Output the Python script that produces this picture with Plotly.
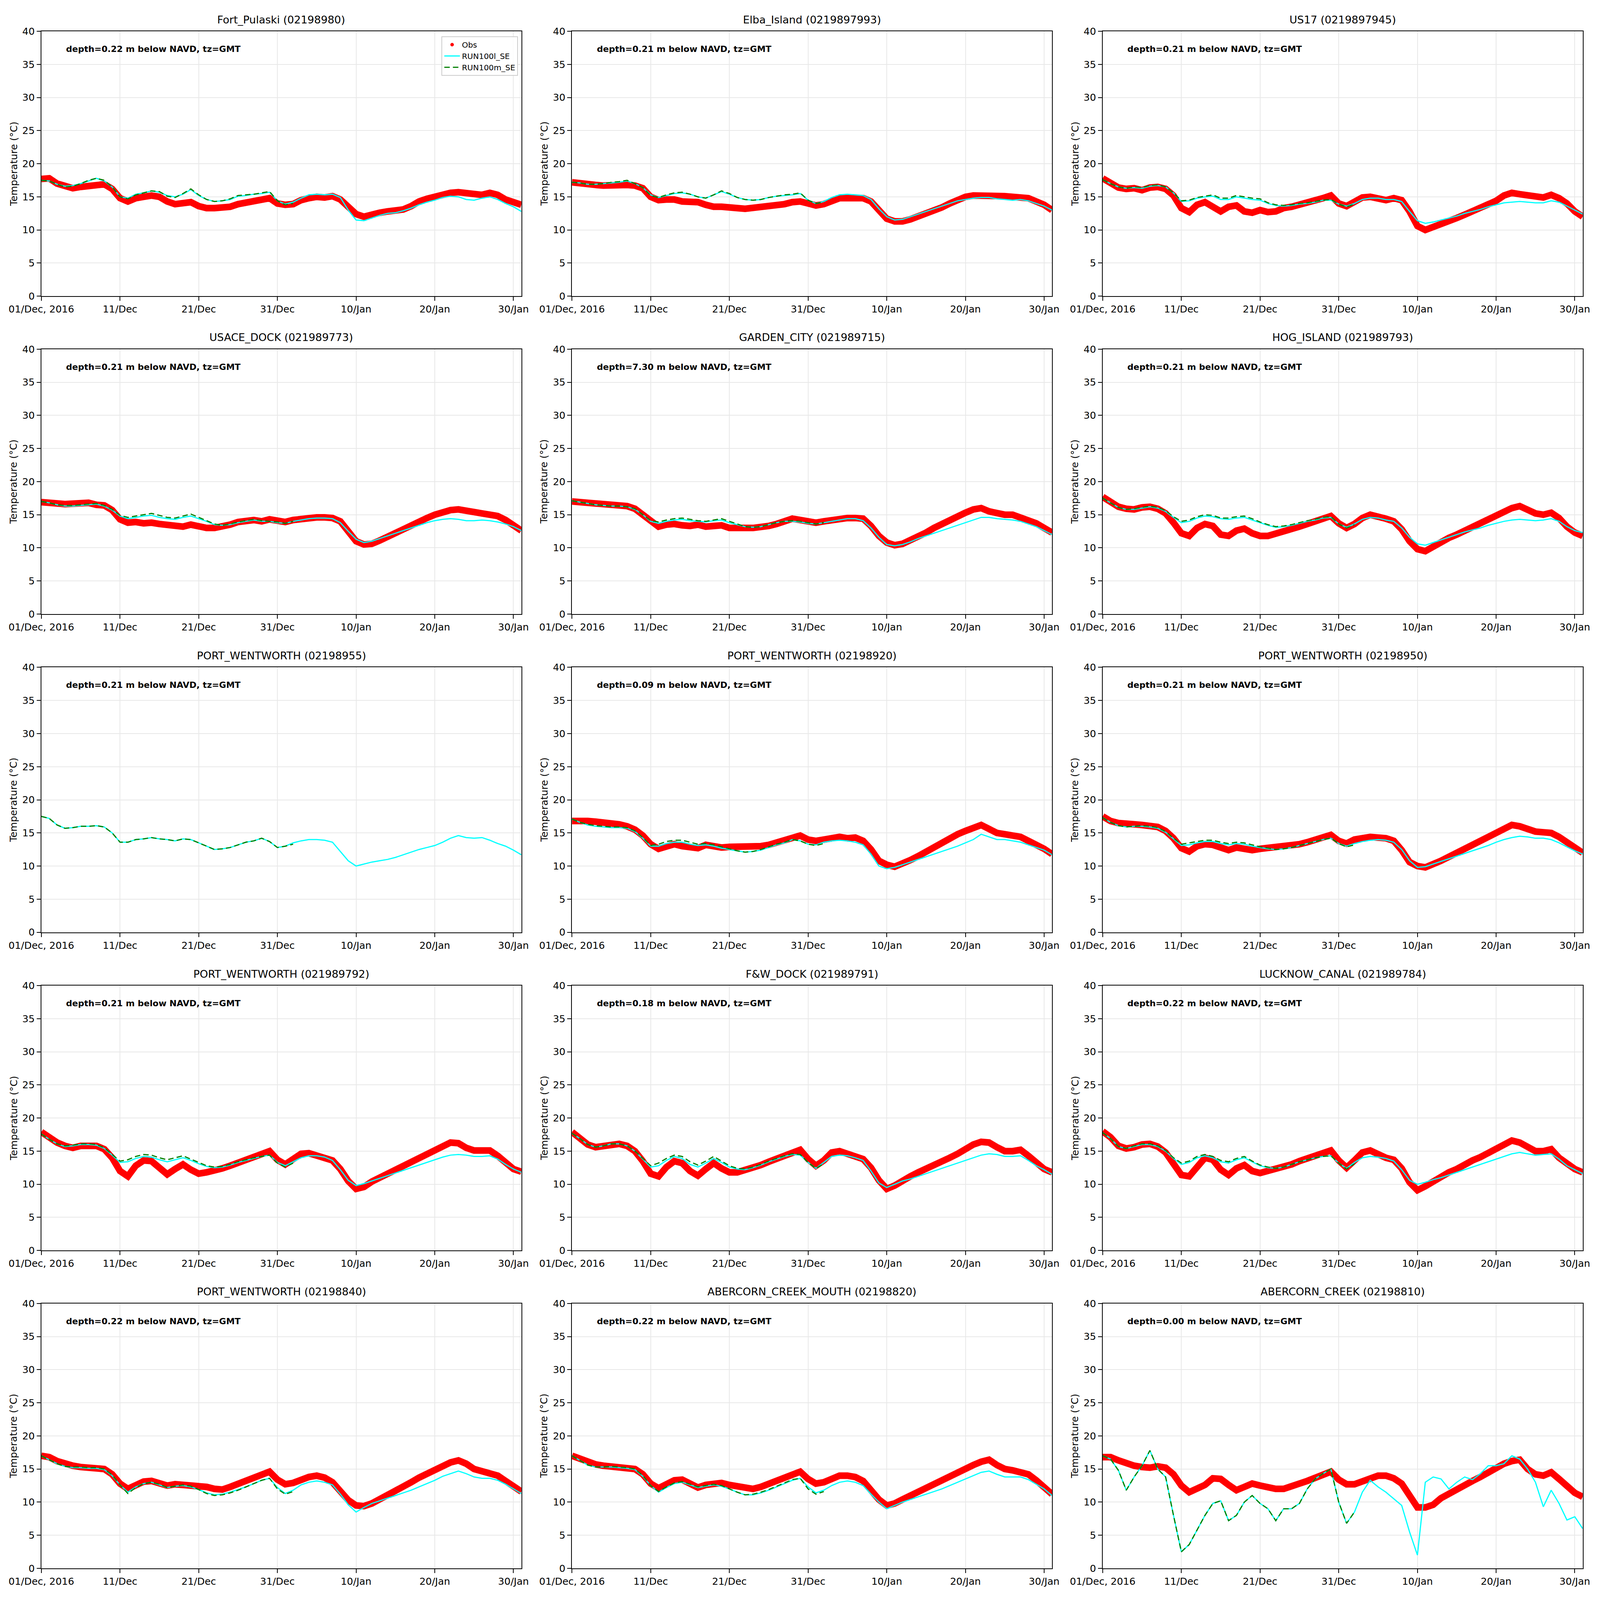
import pandas as pd
import plotly.graph_objects as go

# daily samples, 01 Dec 2016 .. 31 Jan 2017
days = pd.date_range("2016-12-01", periods=62, freq="D")

station_names = ["Fort_Pulaski", "Elba_Island", "US17",
                 "USACE_DOCK", "GARDEN_CITY", "HOG_ISLAND",
                 "PORT_WENTWORTH", "PORT_WENTWORTH", "PORT_WENTWORTH",
                 "PORT_WENTWORTH", "F&W_DOCK", "LUCKNOW_CANAL",
                 "PORT_WENTWORTH", "ABERCORN_CREEK_MOUTH", "ABERCORN_CREEK"]
station_codes = ["02198980", "0219897993", "0219897945",
                 "021989773", "021989715", "021989793",
                 "02198955", "02198920", "02198950",
                 "021989792", "021989791", "021989784",
                 "02198840", "02198820", "02198810"]
depths = ["0.22", "0.21", "0.21",
          "0.21", "7.30", "0.21",
          "0.21", "0.09", "0.21",
          "0.21", "0.18", "0.22",
          "0.22", "0.22", "0.00"]

tick_dates = ["2016-12-01", "2016-12-11", "2016-12-21", "2016-12-31",
              "2017-01-10", "2017-01-20", "2017-01-30"]
tick_labels = ["01/Dec, 2016", "11/Dec", "21/Dec", "31/Dec",
               "10/Jan", "20/Jan", "30/Jan"]
y_ticks = [0, 5, 10, 15, 20, 25, 30, 35, 40]

series_names = ["Obs", "RUN100l_SE", "RUN100m_SE"]

# ---- Fort_Pulaski
obs_fort_pulaski = [17.7, 17.8, 17.0, 16.7, 16.3, 16.5, 16.6, 16.8, 16.9, 16.2,
                    14.8, 14.3, 14.8, 15.0, 15.2, 15.0, 14.3, 13.9, 14.0, 14.2,
                    13.6, 13.3, 13.3, 13.4, 13.5, 13.9, 14.1, 14.3, 14.5, 14.8,
                    14.0, 13.8, 13.9, 14.5, 14.8, 15.0, 14.9, 15.1, 14.6, 13.4,
                    12.4, 12.0, 12.4, 12.6, 12.8, 12.9, 13.1, 13.6, 14.3, 14.7,
                    15.0, 15.4, 15.6, 15.7, 15.6, 15.4, 15.3, 15.6, 15.3, 14.6,
                    14.3, 13.8]
lvl_fort_pulaski = [17.5, 17.4, 16.9, 16.6, 16.7, 17.0, 17.4, 17.8, 17.4, 16.5,
                    15.0, 14.8, 15.4, 15.6, 15.9, 15.7, 15.2, 15.0, 15.4, 16.1,
                    15.2, 14.6, 14.3, 14.4, 14.6, 15.1, 15.2, 15.4, 15.5, 15.7,
                    14.4, 13.9, 14.2, 14.8, 15.3, 15.4, 15.3, 15.4, 14.9, 13.0,
                    11.5, 11.4, 11.8, 12.2, 12.5, 12.6, 12.9, 13.3, 13.8, 14.2,
                    14.5, 14.9, 15.1, 15.0, 14.6, 14.5, 14.8, 15.0, 14.6, 14.0,
                    13.5, 12.8]
mvl_fort_pulaski = [17.5, 17.4, 16.9, 16.5, 16.6, 17.0, 17.5, 17.8, 17.5, 16.5,
                    15.0, 14.7, 15.3, 15.6, 15.9, 15.8, 15.1, 14.9, 15.5, 16.2,
                    15.3, 14.6, 14.3, 14.4, 14.7, 15.2, 15.3, 15.4, 15.6, 15.8,
                    14.4, 13.8, 14.0]

# ---- Elba_Island
obs_elba = [17.2, 17.0, 16.8, 16.8, 16.7, 16.8, 16.8, 16.8, 16.7, 16.3,
            15.0, 14.5, 14.6, 14.6, 14.3, 14.3, 14.2, 13.8, 13.5, 13.5,
            13.3, 13.3, 13.2, 13.3, 13.5, 13.6, 13.7, 13.9, 14.2, 14.3,
            14.0, 13.7, 13.9, 14.4, 14.8, 14.8, 14.9, 14.8, 14.3, 12.8,
            11.7, 11.3, 11.3, 11.6, 12.0, 12.4, 12.9, 13.4, 14.0, 14.6,
            15.0, 15.2, 15.2, 15.3, 15.2, 15.1, 15.0, 15.0, 14.8, 14.3,
            13.8, 13.0]
lvl_elba = [17.2, 17.1, 16.9, 16.9, 17.0, 17.1, 17.2, 17.4, 17.0, 16.4,
            15.3, 14.9, 15.2, 15.5, 15.6, 15.4, 15.0, 14.8, 15.3, 15.8,
            15.4, 14.9, 14.6, 14.5, 14.6, 14.9, 15.1, 15.2, 15.3, 15.5,
            14.5, 14.0, 14.3, 14.9, 15.3, 15.4, 15.3, 15.2, 14.6, 13.2,
            12.0, 11.5, 11.6, 12.0, 12.4, 12.8, 13.2, 13.6, 14.0, 14.4,
            14.6, 14.8, 14.9, 14.9, 14.7, 14.6, 14.5, 14.6, 14.4, 14.0,
            13.6, 13.0]
mvl_elba = [17.2, 17.1, 16.9, 16.9, 17.0, 17.2, 17.3, 17.5, 17.0, 16.4,
            15.2, 14.9, 15.3, 15.6, 15.7, 15.4, 15.0, 14.8, 15.3, 15.9,
            15.5, 14.9, 14.6, 14.5, 14.6, 14.9, 15.1, 15.3, 15.4, 15.6,
            14.5, 14.0, 14.2]

# ---- US17
obs_us17 = [17.8, 17.2, 16.4, 16.2, 16.3, 16.0, 16.4, 16.5, 16.2, 15.2,
            13.3, 12.7, 13.8, 14.2, 13.6, 12.8, 13.5, 13.7, 12.8, 12.6,
            13.0, 12.7, 12.8, 13.3, 13.5, 13.8, 14.1, 14.3, 14.8, 15.2,
            14.0, 13.6, 14.2, 14.9, 15.0, 14.8, 14.5, 14.8, 14.5, 12.8,
            10.6, 10.0, 10.4, 10.9, 11.3, 11.8, 12.3, 12.8, 13.3, 13.9,
            14.4, 15.2, 15.6, 15.4, 15.2, 15.0, 14.9, 15.3, 14.8, 14.0,
            12.8, 12.0]
lvl_us17 = [17.6, 17.0, 16.5, 16.3, 16.4, 16.3, 16.6, 16.7, 16.5, 15.6,
            14.3, 14.4, 14.8, 15.0, 15.1, 14.6, 14.6, 15.0, 14.8, 14.6,
            14.5, 14.0, 13.7, 13.6, 13.7, 13.9, 14.0, 14.2, 14.5, 14.5,
            13.9, 13.6, 14.0, 14.6, 14.8, 14.8, 14.6, 14.6, 14.3, 12.8,
            11.4, 11.0, 11.2, 11.5, 11.8, 12.1, 12.5, 12.8, 13.1, 13.5,
            13.8, 14.1, 14.2, 14.3, 14.2, 14.1, 14.1, 14.4, 14.2, 13.6,
            13.0, 12.4]
mvl_us17 = [17.6, 17.0, 16.5, 16.3, 16.5, 16.4, 16.7, 16.8, 16.5, 15.6,
            14.4, 14.5, 14.9, 15.1, 15.3, 14.8, 14.8, 15.2, 15.0, 14.8,
            14.7, 14.1, 13.8, 13.7, 13.8, 14.0, 14.1, 14.3, 14.5, 14.6,
            13.9, 13.5, 13.9]

# ---- USACE_DOCK
obs_usace = [16.9, 16.9, 16.7, 16.6, 16.6, 16.7, 16.8, 16.5, 16.4, 15.7,
             14.3, 13.8, 13.9, 13.7, 13.8, 13.6, 13.5, 13.4, 13.2, 13.5,
             13.2, 13.0, 13.0, 13.2, 13.5, 13.9, 14.0, 14.2, 14.0, 14.3,
             14.1, 13.9, 14.2, 14.4, 14.4, 14.6, 14.6, 14.5, 14.0, 12.3,
             11.0, 10.5, 10.6, 11.1, 11.7, 12.3, 12.9, 13.4, 14.0, 14.5,
             15.0, 15.4, 15.7, 15.8, 15.5, 15.4, 15.2, 15.0, 14.8, 14.2,
             13.5, 12.6]
lvl_usace = [17.0, 16.8, 16.5, 16.3, 16.3, 16.4, 16.5, 16.6, 16.3, 15.7,
             14.8, 14.4, 14.6, 14.8, 14.9, 14.6, 14.4, 14.3, 14.6, 14.8,
             14.4, 14.0, 13.5, 13.4, 13.5, 13.8, 14.0, 14.2, 14.0, 14.0,
             13.8, 13.7, 14.0, 14.2, 14.4, 14.5, 14.5, 14.4, 13.8, 12.5,
             11.3, 10.8, 11.0, 11.4, 11.8, 12.2, 12.6, 13.0, 13.4, 13.8,
             14.1, 14.3, 14.4, 14.3, 14.1, 14.1, 14.2, 14.1, 13.9, 13.6,
             13.2, 12.6]
mvl_usace = [17.0, 16.8, 16.5, 16.4, 16.4, 16.5, 16.6, 16.7, 16.4, 15.8,
             14.9, 14.6, 14.8, 15.0, 15.2, 14.9, 14.6, 14.5, 14.8, 15.1,
             14.6, 14.1, 13.6, 13.4, 13.6, 13.9, 14.1, 14.3, 14.1, 14.0,
             13.9, 13.7, 14.0]

# ---- GARDEN_CITY
obs_garden = [17.0, 16.9, 16.8, 16.8, 16.7, 16.6, 16.5, 16.3, 15.9, 15.0,
              13.9, 13.2, 13.5, 13.6, 13.4, 13.3, 13.5, 13.2, 13.3, 13.4,
              13.0, 12.9, 13.0, 13.0, 13.1, 13.3, 13.6, 14.0, 14.4, 14.2,
              14.0, 13.8, 14.0, 14.2, 14.3, 14.5, 14.5, 14.4, 13.3, 11.8,
              10.8, 10.4, 10.6, 11.1, 11.7, 12.3, 13.0, 13.6, 14.3, 14.9,
              15.3, 15.8, 16.0, 15.5, 15.2, 15.0, 15.0, 14.6, 14.2, 13.7,
              13.0, 12.3]
lvl_garden = [17.1, 16.9, 16.7, 16.5, 16.4, 16.3, 16.3, 16.2, 15.8, 15.0,
              14.0, 13.7, 14.0, 14.2, 14.3, 14.1, 14.0, 13.9, 14.1, 14.2,
              13.8, 13.5, 13.2, 13.1, 13.2, 13.5, 13.8, 14.0, 14.0, 13.9,
              13.7, 13.6, 13.8, 14.0, 14.2, 14.4, 14.4, 14.1, 13.0, 11.6,
              10.5, 10.3, 10.5, 10.9, 11.4, 11.8, 12.2, 12.6, 13.0, 13.4,
              13.8, 14.2, 14.6, 14.6, 14.4, 14.3, 14.2, 14.0, 13.6, 13.2,
              12.6, 12.0]
mvl_garden = [17.1, 16.9, 16.7, 16.5, 16.4, 16.3, 16.3, 16.2, 15.9, 15.0,
              14.1, 13.9, 14.2, 14.4, 14.5, 14.3, 14.1, 14.0, 14.2, 14.4,
              14.0, 13.6, 13.2, 13.1, 13.2, 13.5, 13.8, 14.0, 14.1, 14.0,
              13.8, 13.6, 13.8]

# ---- HOG_ISLAND
obs_hog = [17.7, 17.0, 16.2, 15.9, 15.8, 16.1, 16.2, 15.9, 15.2, 13.8,
           12.2, 11.8, 13.0, 13.6, 13.3, 12.0, 11.8, 12.6, 12.9, 12.2,
           11.8, 11.8, 12.1, 12.5, 12.8, 13.2, 13.6, 14.0, 14.5, 14.8,
           13.7, 13.0, 13.6, 14.5, 15.0, 14.8, 14.4, 14.0, 12.8, 11.0,
           9.8, 9.5, 10.2, 10.8, 11.5, 12.0, 12.6, 13.1, 13.6, 14.2,
           14.8, 15.5, 16.0, 16.3, 15.8, 15.2, 15.0, 15.3, 14.5, 13.2,
           12.3, 11.8]
lvl_hog = [17.5, 16.8, 16.1, 15.8, 15.8, 16.0, 16.2, 16.0, 15.5, 14.6,
           13.8, 14.0, 14.5, 14.8, 14.7, 14.4, 14.3, 14.5, 14.6, 14.2,
           13.8, 13.4, 13.1, 13.2, 13.4, 13.7, 14.0, 14.2, 14.5, 14.6,
           13.6, 13.1, 13.6, 14.3, 14.6, 14.5, 14.2, 14.0, 13.0, 11.6,
           10.6, 10.4, 10.8, 11.2, 11.6, 12.0, 12.4, 12.7, 13.0, 13.4,
           13.7, 14.0, 14.2, 14.3, 14.2, 14.1, 14.2, 14.4, 14.0, 13.2,
           12.6, 12.3]
mvl_hog = [17.5, 16.8, 16.1, 15.8, 15.9, 16.1, 16.3, 16.1, 15.6, 14.7,
           14.0, 14.2, 14.7, 15.0, 14.9, 14.5, 14.5, 14.7, 14.8, 14.4,
           13.9, 13.5, 13.2, 13.3, 13.5, 13.8, 14.1, 14.3, 14.6, 14.7,
           13.6, 13.0, 13.5]

# ---- PORT_WENTWORTH (02198955), no observations
obs_pw955 = []
lvl_pw955 = [17.5, 17.2, 16.2, 15.7, 15.8, 16.0, 16.0, 16.1, 15.9, 15.0,
             13.6, 13.6, 14.0, 14.1, 14.3, 14.1, 14.0, 13.8, 14.1, 14.0,
             13.5, 13.0, 12.5, 12.6, 12.8, 13.2, 13.6, 13.8, 14.2, 13.7,
             12.8, 13.0, 13.5, 13.8, 14.0, 14.0, 13.9, 13.6, 12.2, 10.8,
             10.0, 10.3, 10.6, 10.8, 11.0, 11.3, 11.7, 12.1, 12.5, 12.8,
             13.1, 13.6, 14.2, 14.6, 14.3, 14.2, 14.3, 13.9, 13.4, 13.0,
             12.4, 11.7]
mvl_pw955 = [17.5, 17.2, 16.2, 15.7, 15.8, 16.0, 16.0, 16.1, 15.9, 15.0,
             13.6, 13.6, 14.0, 14.1, 14.3, 14.1, 14.0, 13.8, 14.1, 14.0,
             13.5, 13.0, 12.5, 12.6, 12.8, 13.2, 13.6, 13.8, 14.2, 13.7,
             12.8, 13.0, 13.3]

# ---- PORT_WENTWORTH (02198920)
obs_pw920 = [16.8, 16.9, 16.8, 16.7, 16.6, 16.5, 16.3, 16.0, 15.5, 14.6,
             13.3, 12.6, 13.0, 13.3, 13.0, 12.8, 12.7, 13.2, 13.0, 12.8,
             12.9, 12.9, 12.8, 12.9, 13.0, 13.2, 13.5, 13.8, 14.3, 14.6,
             14.0, 13.8, 14.0, 14.3, 14.4, 14.2, 14.3, 13.8, 12.5, 10.8,
             10.2, 9.9, 10.3, 10.9, 11.5, 12.2, 12.9, 13.5, 14.2, 14.8,
             15.3, 15.8, 16.2, 15.6, 15.0, 14.8, 14.7, 14.4, 13.8, 13.3,
             12.6, 11.8]
lvl_pw920 = [17.1, 16.6, 16.2, 16.0, 15.9, 15.8, 15.8, 15.7, 15.2, 14.2,
             13.0, 13.0, 13.4, 13.6, 13.6, 13.3, 13.1, 13.2, 13.0, 12.7,
             12.5, 12.3, 12.1, 12.2, 12.4, 12.8, 13.2, 13.5, 14.0, 13.8,
             13.3, 13.2, 13.6, 13.8, 13.9, 13.8, 13.6, 13.2, 11.8, 10.0,
             9.6, 9.8, 10.2, 10.6, 11.0, 11.4, 11.8, 12.2, 12.6, 13.0,
             13.5, 14.0, 14.8, 14.4, 14.0, 14.0, 13.8, 13.6, 13.2, 12.8,
             12.4, 11.7]
mvl_pw920 = [17.1, 16.6, 16.3, 16.1, 16.0, 15.9, 15.9, 15.8, 15.3, 14.3,
             13.1, 13.3, 13.7, 13.9, 13.9, 13.6, 13.3, 13.4, 13.2, 12.9,
             12.6, 12.3, 12.1, 12.2, 12.5, 12.9, 13.3, 13.6, 14.0, 13.8,
             13.3, 13.1, 13.4]

# ---- PORT_WENTWORTH (02198950)
obs_pw950 = [17.5, 16.8, 16.5, 16.3, 16.3, 16.2, 16.1, 15.9, 15.3, 14.2,
             12.7, 12.2, 13.0, 13.3, 13.2, 12.8, 12.4, 12.8, 12.6, 12.4,
             12.6, 12.7, 12.8, 12.9, 13.1, 13.3, 13.6, 14.0, 14.3, 14.7,
             13.8, 13.4, 14.0, 14.3, 14.4, 14.3, 14.2, 13.8, 12.4, 10.6,
             10.0, 9.8, 10.2, 10.8, 11.4, 12.0, 12.6, 13.2, 13.8, 14.4,
             15.0, 15.6, 16.2, 16.0, 15.6, 15.2, 15.1, 15.0, 14.4, 13.6,
             12.6, 12.0]
lvl_pw950 = [17.3, 16.6, 16.1, 15.9, 16.0, 16.0, 15.9, 15.7, 15.1, 14.1,
             13.1, 13.2, 13.5, 13.7, 13.7, 13.4, 13.2, 13.4, 13.3, 13.0,
             12.8, 12.6, 12.5, 12.6, 12.8, 13.1, 13.4, 13.7, 14.0, 14.2,
             13.4, 13.0, 13.4, 13.7, 13.9, 14.0, 13.9, 13.6, 12.5, 10.8,
             9.8, 9.9, 10.3, 10.7, 11.1, 11.5, 11.9, 12.3, 12.7, 13.1,
             13.6, 14.0, 14.3, 14.5, 14.4, 14.2, 14.2, 14.0, 13.5, 12.9,
             12.3, 11.8]
mvl_pw950 = [17.3, 16.6, 16.1, 15.9, 16.0, 16.1, 16.0, 15.8, 15.2, 14.2,
             13.3, 13.5, 13.7, 13.9, 13.9, 13.6, 13.4, 13.6, 13.5, 13.2,
             12.9, 12.7, 12.5, 12.6, 12.8, 13.1, 13.4, 13.7, 14.0, 14.2,
             13.4, 12.9, 13.2]

# ---- PORT_WENTWORTH (021989792)
obs_pw792 = [17.9, 17.0, 16.3, 15.8, 15.5, 15.8, 15.9, 15.8, 15.3, 14.0,
             12.0, 11.2, 12.8, 13.6, 13.5, 12.4, 11.5, 12.3, 13.0, 12.2,
             11.6, 11.8, 12.0, 12.4, 12.8, 13.2, 13.6, 14.1, 14.6, 15.0,
             13.7, 13.0, 13.8, 14.6, 14.7, 14.3, 14.0, 13.6, 12.3, 10.5,
             9.3, 9.6, 10.4, 11.0, 11.5, 12.0, 12.6, 13.2, 13.8, 14.4,
             15.1, 15.8, 16.3, 16.2, 15.5, 15.1, 15.0, 15.1, 14.3, 13.2,
             12.3, 11.9]
lvl_pw792 = [17.6, 16.8, 16.1, 15.7, 15.8, 16.0, 16.0, 15.9, 15.4, 14.4,
             13.3, 13.4, 13.9, 14.2, 14.1, 13.7, 13.4, 13.7, 14.0, 13.6,
             13.1, 12.7, 12.5, 12.6, 12.9, 13.3, 13.6, 13.9, 14.2, 14.4,
             13.3, 12.8, 13.4, 14.0, 14.3, 14.3, 14.1, 13.6, 12.2, 10.6,
             9.8, 10.1, 10.5, 10.9, 11.3, 11.7, 12.1, 12.5, 12.9, 13.3,
             13.7, 14.1, 14.4, 14.5, 14.4, 14.2, 14.2, 14.3, 13.8, 13.0,
             12.3, 11.8]
mvl_pw792 = [17.6, 16.8, 16.1, 15.8, 15.9, 16.1, 16.1, 16.0, 15.5, 14.5,
             13.5, 13.7, 14.2, 14.5, 14.4, 14.0, 13.7, 14.0, 14.3, 13.8,
             13.3, 12.8, 12.6, 12.7, 13.0, 13.4, 13.7, 14.0, 14.2, 14.4,
             13.2, 12.6, 13.2]

# ---- F&W_DOCK
obs_fw = [17.9, 17.0, 16.0, 15.6, 15.8, 16.0, 16.1, 15.8, 15.0, 13.5,
          11.6, 11.2, 12.6, 13.5, 13.2, 12.0, 11.3, 12.3, 13.2, 12.4,
          11.8, 11.8, 12.1, 12.5, 12.9, 13.4, 13.9, 14.4, 14.9, 15.2,
          13.8, 12.8, 13.6, 14.8, 15.0, 14.5, 14.2, 13.8, 12.5, 10.6,
          9.3, 9.8, 10.6, 11.2, 11.8, 12.3, 12.9, 13.5, 14.0, 14.6,
          15.3, 16.0, 16.4, 16.3, 15.6, 15.0, 15.0, 15.2, 14.3, 13.2,
          12.3, 11.8]
lvl_fw = [17.7, 16.9, 16.0, 15.6, 15.8, 16.1, 16.1, 15.8, 15.0, 13.8,
          12.6, 12.8, 13.6, 14.2, 13.9, 13.0, 12.6, 13.2, 13.9, 13.3,
          12.6, 12.3, 12.2, 12.5, 12.9, 13.4, 13.8, 14.2, 14.5, 14.4,
          13.3, 12.4, 13.3, 14.2, 14.4, 14.3, 14.0, 13.6, 12.0, 10.2,
          9.5, 10.0, 10.5, 10.8, 11.2, 11.6, 12.0, 12.4, 12.8, 13.2,
          13.6, 14.0, 14.4, 14.6, 14.5, 14.2, 14.2, 14.3, 13.6, 12.8,
          12.2, 11.5]
mvl_fw = [17.7, 16.9, 16.0, 15.6, 15.8, 16.1, 16.1, 15.8, 15.0, 13.9,
          12.8, 13.2, 13.9, 14.4, 14.2, 13.4, 12.9, 13.5, 14.2, 13.5,
          12.8, 12.4, 12.3, 12.6, 13.0, 13.5, 13.9, 14.3, 14.6, 14.5,
          13.3, 12.4, 13.1]

# ---- LUCKNOW_CANAL
obs_lucknow = [18.0, 17.1, 15.8, 15.4, 15.6, 16.0, 16.1, 15.7, 14.8, 13.2,
               11.4, 11.2, 12.8, 14.0, 13.7, 12.2, 11.4, 12.4, 12.9, 12.0,
               11.7, 12.0, 12.2, 12.6, 13.0, 13.5, 13.9, 14.3, 14.8, 15.1,
               13.6, 12.5, 13.6, 14.8, 15.1, 14.5, 14.0, 13.7, 12.4, 10.3,
               9.1, 9.7, 10.5, 11.2, 11.8, 12.3, 13.0, 13.6, 14.1, 14.7,
               15.4, 16.0, 16.6, 16.3, 15.6, 15.0, 15.0, 15.3, 14.0, 13.0,
               12.3, 11.8]
lvl_lucknow = [17.8, 16.9, 15.7, 15.4, 15.7, 16.0, 16.0, 15.7, 15.0, 13.9,
               13.0, 13.3, 14.0, 14.3, 14.0, 13.4, 13.2, 13.7, 14.0, 13.4,
               12.8, 12.5, 12.4, 12.6, 13.0, 13.4, 13.7, 14.0, 14.2, 14.3,
               13.2, 12.4, 13.3, 14.0, 14.2, 14.1, 13.9, 13.5, 12.2, 10.6,
               10.0, 10.3, 10.7, 11.0, 11.4, 11.8, 12.2, 12.6, 13.0, 13.4,
               13.8, 14.2, 14.6, 14.8, 14.6, 14.4, 14.5, 14.6, 13.8, 12.8,
               12.2, 11.6]
mvl_lucknow = [17.8, 16.9, 15.7, 15.4, 15.8, 16.1, 16.1, 15.8, 15.1, 14.0,
               13.2, 13.5, 14.2, 14.5, 14.2, 13.6, 13.4, 13.9, 14.2, 13.5,
               12.9, 12.6, 12.4, 12.6, 13.0, 13.4, 13.7, 14.0, 14.2, 14.3,
               13.2, 12.3, 13.1]

# ---- PORT_WENTWORTH (02198840)
obs_pw840 = [17.0, 16.8, 16.2, 15.8, 15.5, 15.3, 15.2, 15.2, 15.0, 14.2,
             12.8, 12.0, 12.6, 13.1, 13.2, 12.8, 12.5, 12.7, 12.6, 12.7,
             12.5, 12.3, 12.0, 11.9, 12.3, 12.8, 13.2, 13.6, 14.1, 14.6,
             13.4, 12.7, 12.9, 13.4, 13.8, 14.0, 13.7, 13.0, 11.6, 10.3,
             9.5, 9.4, 9.8, 10.4, 11.0, 11.6, 12.3, 13.0, 13.7, 14.3,
             14.9, 15.5, 16.0, 16.3, 15.8, 15.0, 14.6, 14.4, 14.0, 13.2,
             12.4, 11.6]
lvl_pw840 = [17.0, 16.4, 15.8, 15.4, 15.2, 15.2, 15.1, 15.1, 14.9, 14.0,
             12.6, 11.5, 12.3, 12.8, 13.0, 12.6, 12.2, 12.4, 12.5, 12.3,
             11.9, 11.4, 11.1, 11.2, 11.5, 11.9, 12.3, 12.8, 13.3, 13.6,
             12.2, 11.3, 11.8, 12.6, 13.0, 13.2, 13.0, 12.6, 11.2, 9.6,
             8.5, 9.2, 9.8, 10.2, 10.6, 11.0, 11.4, 11.8, 12.3, 12.8,
             13.3, 13.9, 14.3, 14.7, 14.3, 13.8, 13.6, 13.6, 13.3, 12.7,
             12.0, 11.3]
mvl_pw840 = [17.0, 16.4, 15.8, 15.4, 15.3, 15.3, 15.2, 15.2, 15.0, 14.1,
             12.6, 11.3, 12.2, 12.8, 13.0, 12.7, 12.2, 12.4, 12.6, 12.4,
             11.9, 11.3, 11.0, 11.1, 11.4, 11.8, 12.3, 12.8, 13.3, 13.6,
             12.0, 11.2, 11.6]

# ---- ABERCORN_CREEK_MOUTH
obs_acm = [17.0, 16.6, 16.0, 15.7, 15.5, 15.4, 15.2, 15.2, 15.0, 14.2,
           12.8, 12.1, 12.8, 13.3, 13.4, 12.8, 12.2, 12.6, 12.8, 12.9,
           12.6, 12.4, 12.1, 12.0, 12.3, 12.8, 13.2, 13.6, 14.1, 14.6,
           13.5, 12.8, 13.0, 13.6, 14.0, 14.0, 13.8, 13.2, 11.8, 10.4,
           9.5, 9.8, 10.4, 11.0, 11.6, 12.2, 12.8, 13.4, 14.0, 14.5,
           15.0, 15.6, 16.1, 16.4, 15.6, 15.0, 14.8, 14.5, 14.2, 13.3,
           12.4, 11.2]
lvl_acm = [17.0, 16.3, 15.6, 15.3, 15.3, 15.3, 15.2, 15.1, 14.9, 13.9,
           12.5, 11.5, 12.2, 12.8, 13.0, 12.6, 12.2, 12.4, 12.6, 12.4,
           12.0, 11.5, 11.1, 11.1, 11.4, 11.8, 12.3, 12.8, 13.3, 13.6,
           12.3, 11.4, 11.8, 12.5, 13.0, 13.2, 13.0, 12.5, 11.2, 10.0,
           9.0, 9.5, 10.0, 10.4, 10.8, 11.2, 11.6, 12.0, 12.5, 13.0,
           13.5, 14.0, 14.5, 14.7, 14.2, 13.8, 13.8, 13.8, 13.4, 12.7,
           12.0, 11.0]
mvl_acm = [17.0, 16.3, 15.6, 15.3, 15.3, 15.4, 15.3, 15.2, 15.0, 14.0,
           12.5, 11.6, 12.3, 12.9, 13.1, 12.7, 12.3, 12.5, 12.7, 12.5,
           12.0, 11.5, 11.1, 11.2, 11.5, 11.9, 12.4, 12.9, 13.4, 13.6,
           12.0, 11.2, 11.6]

# ---- ABERCORN_CREEK
obs_ac = [16.8, 16.8, 16.3, 15.8, 15.5, 15.3, 15.2, 15.4, 15.2, 14.2,
          12.5, 11.5, 12.0, 12.6, 13.6, 13.5, 12.6, 11.8, 12.3, 12.8,
          12.5, 12.2, 12.0, 12.0, 12.3, 12.8, 13.2, 13.6, 14.1, 14.6,
          13.4, 12.7, 12.7, 13.2, 13.6, 14.0, 14.0, 13.6, 12.8, 10.8,
          9.2, 9.2, 9.6, 10.6, 11.3, 12.0, 12.7, 13.2, 13.8, 14.5,
          15.2, 15.8, 16.2, 16.4, 15.0, 14.2, 14.0, 14.5, 13.5, 12.3,
          11.4, 10.8]
lvl_ac = [17.0, 16.5, 14.8, 11.8, 13.8, 15.5, 17.8, 15.0, 13.8, 8.0,
          2.5, 3.6, 5.8, 8.0, 9.8, 10.2, 7.2, 8.0, 10.0, 11.0,
          9.8, 9.0, 7.2, 9.0, 9.0, 9.8, 12.0, 13.5, 14.3, 15.0,
          10.0, 6.8, 8.5, 11.5, 13.3, 12.3, 11.5, 10.5, 9.5, 5.5,
          2.0, 13.0, 13.8, 13.5, 12.0, 13.0, 13.8, 13.4, 14.3, 15.5,
          15.5, 15.8, 17.0, 16.5, 15.0, 13.0, 9.3, 11.8, 9.8, 7.3,
          7.8, 6.0]
mvl_ac = [17.0, 16.5, 14.8, 11.8, 13.8, 15.5, 17.8, 15.0, 13.8, 8.0,
          2.5, 3.6, 5.8, 8.0, 9.8, 10.2, 7.2, 8.0, 10.0, 11.0,
          9.8, 9.0, 7.2, 9.0, 9.0, 9.8, 12.0, 13.5, 14.3, 15.0,
          10.0, 6.8, 8.5]

panels = [
    (obs_fort_pulaski, lvl_fort_pulaski, mvl_fort_pulaski),
    (obs_elba, lvl_elba, mvl_elba),
    (obs_us17, lvl_us17, mvl_us17),
    (obs_usace, lvl_usace, mvl_usace),
    (obs_garden, lvl_garden, mvl_garden),
    (obs_hog, lvl_hog, mvl_hog),
    (obs_pw955, lvl_pw955, mvl_pw955),
    (obs_pw920, lvl_pw920, mvl_pw920),
    (obs_pw950, lvl_pw950, mvl_pw950),
    (obs_pw792, lvl_pw792, mvl_pw792),
    (obs_fw, lvl_fw, mvl_fw),
    (obs_lucknow, lvl_lucknow, mvl_lucknow),
    (obs_pw840, lvl_pw840, mvl_pw840),
    (obs_acm, lvl_acm, mvl_acm),
    (obs_ac, lvl_ac, mvl_ac),
]

# layout measured on the 6000 x 4500 reference, kept as fractions of the page
W, H = 6000, 4500
FONT = "DejaVu Sans"
col_left = [155, 2145, 4135]
col_width = 1800
row_top = [88, 982, 1877, 2772, 3666]
row_height = 745

fig = go.Figure()
layout = {}
annotations = []

axis_common = dict(showline=True, linecolor="black", linewidth=2, mirror=True,
                   ticks="outside", ticklen=10, tickwidth=2, tickcolor="black",
                   showgrid=True, gridcolor="#e8e8e8", gridwidth=2,
                   zeroline=False, automargin=False,
                   tickfont=dict(family=FONT, size=25, color="black"))

for i, (obs, lvl, mvl) in enumerate(panels):
    r, c = divmod(i, 3)
    k = i + 1
    xa = "x" if k == 1 else f"x{k}"
    ya = "y" if k == 1 else f"y{k}"
    x0 = col_left[c] / W
    x1 = (col_left[c] + col_width) / W
    y1 = 1 - row_top[r] / H
    y0 = 1 - (row_top[r] + row_height) / H

    if obs:
        fig.add_trace(go.Scatter(x=days[:len(obs)], y=obs, mode="lines",
                                 line=dict(color="red", width=17),
                                 name=series_names[0], showlegend=False,
                                 xaxis=xa, yaxis=ya))
    fig.add_trace(go.Scatter(x=days[:len(lvl)], y=lvl, mode="lines",
                             line=dict(color="#00ffff", width=3),
                             name=series_names[1], showlegend=(k == 1),
                             legendrank=2, xaxis=xa, yaxis=ya))
    fig.add_trace(go.Scatter(x=days[:len(mvl)], y=mvl, mode="lines",
                             line=dict(color="#008000", width=3, dash="14px,8px"),
                             name=series_names[2], showlegend=(k == 1),
                             legendrank=3, xaxis=xa, yaxis=ya))

    layout["xaxis" if k == 1 else f"xaxis{k}"] = dict(
        domain=[x0, x1], anchor=ya, type="date",
        range=["2016-12-01", "2017-01-31"],
        tickvals=tick_dates, ticktext=tick_labels, **axis_common)
    layout["yaxis" if k == 1 else f"yaxis{k}"] = dict(
        domain=[y0, y1], anchor=xa, range=[0, 40],
        tickvals=y_ticks, **axis_common)

    annotations.append(dict(
        text=f"{station_names[i]} ({station_codes[i]})",
        xref="paper", yref="paper", x=(x0 + x1) / 2, y=y1 + 33 / H,
        xanchor="center", yanchor="middle", showarrow=False,
        font=dict(family=FONT, size=27, color="black")))
    annotations.append(dict(
        text=f"<b>depth={depths[i]} m below NAVD, tz=GMT</b>",
        xref=f"{xa} domain", yref=f"{ya} domain", x=0.05, y=0.933,
        xanchor="left", yanchor="middle", showarrow=False,
        font=dict(family=FONT, size=22, color="black")))
    annotations.append(dict(
        text="Temperature (°C)", textangle=-90,
        xref="paper", yref="paper", x=x0 - 104 / W, y=(y0 + y1) / 2,
        xanchor="center", yanchor="middle", showarrow=False,
        font=dict(family=FONT, size=25, color="black")))

# legend marker for the observation dots
fig.add_trace(go.Scatter(x=[None], y=[None], mode="markers",
                         marker=dict(color="red", size=9),
                         name=series_names[0], legendrank=1,
                         xaxis="x", yaxis="y"))

fig.update_layout(
    autosize=True,
    margin=dict(l=0, r=0, t=0, b=0, autoexpand=False),
    paper_bgcolor="white", plot_bgcolor="white",
    font=dict(family=FONT, size=25, color="black"),
    annotations=annotations,
    legend=dict(x=1943 / W, y=1 - 102 / H, xanchor="right", yanchor="top",
                bgcolor="rgba(255,255,255,0.85)", bordercolor="#cccccc", borderwidth=2,
                font=dict(family=FONT, size=20, color="black"),
                itemwidth=40, tracegroupgap=2),
    **layout,
)

# the page fills the browser window; drop the default body margin
post = """
document.body.style.margin = '0';
document.body.style.overflow = 'hidden';
var gd = document.getElementById('{plot_id}');
Plotly.Plots.resize(gd);
"""

fig.write_html("out.html", default_width="100vw", default_height="100vh",
               post_script=post, config={"displayModeBar": False})
